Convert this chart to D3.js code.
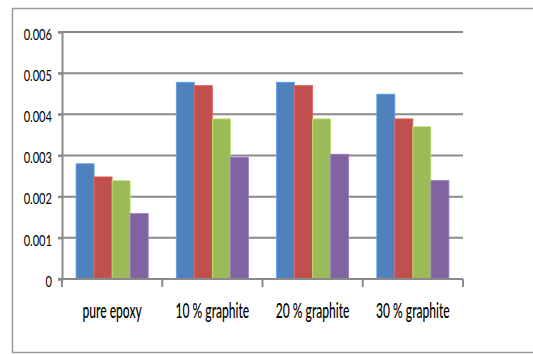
<!DOCTYPE html>
<html>
<head>
<meta charset="utf-8">
<script src="https://cdn.jsdelivr.net/npm/d3@7"></script>
<style>
  html, body { margin: 0; padding: 0; background: #fff; }
  svg { display: block; }
  text { font-family: Lato, "Liberation Sans", sans-serif; fill: #000; }
</style>
</head>
<body>
<svg id="chart" width="533" height="354"></svg>
<script>
// Categories and the four series per category
const categories = ["pure epoxy", "10 % graphite", "20 % graphite", "30 % graphite"];
const series1 = [0.0028, 0.00478, 0.00478, 0.00449];
const series2 = [0.00248, 0.0047, 0.0047, 0.00389];
const series3 = [0.00239, 0.00389, 0.00389, 0.0037];
const series4 = [0.00159, 0.00296, 0.00303, 0.00239];
const seriesColors = ["#4F81BD", "#C0504D", "#9BBB59", "#8064A2"];
const yTicks = [0, 0.001, 0.002, 0.003, 0.004, 0.005, 0.006];

const allSeries = [series1, series2, series3, series4];

const svg = d3.select("#chart");

// Chart frame
svg.append("path")
  .attr("d", "M533,8.5 H12.5 V352.5 H533")
  .attr("fill", "none")
  .attr("stroke", "#9a9a9a")
  .attr("stroke-width", 1.5);

const plotLeft = 62, plotRight = 463, plotTop = 32, plotBottom = 279;

const x = d3.scaleBand().domain(categories).range([plotLeft, plotRight]).padding(0);
const y = d3.scaleLinear().domain([0, 0.006]).range([plotBottom, plotTop]);
const inner = d3.scaleBand().domain(d3.range(allSeries.length))
  .range([0, x.bandwidth()]).paddingOuter(0.78).paddingInner(0);

// Horizontal gridlines
svg.append("g").selectAll("line")
  .data(yTicks.filter(d => d > 0))
  .join("line")
  .attr("x1", plotLeft - 4).attr("x2", plotRight)
  .attr("y1", d => y(d)).attr("y2", d => y(d))
  .attr("stroke", "#8a8a8a").attr("stroke-width", 2);

// Y axis with narrow, tall tick labels
const yAxis = d3.axisLeft(y).tickValues(yTicks)
  .tickFormat(d => d === 0 ? "0" : d3.format(".3f")(d))
  .tickSize(4);
const gy = svg.append("g").attr("transform", `translate(${plotLeft},0)`).call(yAxis);
gy.select(".domain").attr("stroke", "#8a8a8a").attr("stroke-width", 2);
gy.selectAll(".tick line").attr("stroke", "#8a8a8a").attr("stroke-width", 2);
gy.selectAll(".tick text")
  .attr("x", 0)
  .attr("dy", "0.48em")
  .attr("transform", "translate(-10,0) scale(0.74,1)")
  .attr("font-size", 15)
  .attr("fill", "#000")
  .style("font-family", "Lato, 'Liberation Sans', sans-serif");

// Bars
const groups = svg.append("g").selectAll("g")
  .data(categories)
  .join("g")
  .attr("transform", d => `translate(${x(d)},0)`);

groups.selectAll("rect")
  .data((c, i) => allSeries.map((s, k) => ({ k, v: s[i] })))
  .join("rect")
  .attr("x", d => inner(d.k))
  .attr("width", inner.bandwidth())
  .attr("y", d => y(d.v))
  .attr("height", d => plotBottom - y(d.v))
  .attr("fill", d => seriesColors[d.k])
  .attr("stroke", d => d3.color(seriesColors[d.k]).brighter(0.6))
  .attr("stroke-width", 0.8);

// X axis with category separators
const boundaries = [plotLeft, ...categories.slice(1).map(c => x(c)), plotRight];
svg.append("line")
  .attr("x1", plotLeft - 4).attr("x2", plotRight)
  .attr("y1", plotBottom).attr("y2", plotBottom)
  .attr("stroke", "#8a8a8a").attr("stroke-width", 2);
svg.append("g").selectAll("line")
  .data(boundaries)
  .join("line")
  .attr("x1", d => d).attr("x2", d => d)
  .attr("y1", plotBottom).attr("y2", plotBottom + 8)
  .attr("stroke", "#8a8a8a").attr("stroke-width", 2);

// Category labels
svg.append("g").selectAll("text")
  .data(categories)
  .join("text")
  .attr("transform", d => `translate(${x(d) + x.bandwidth() / 2},317.5) scale(0.575,1)`)
  .attr("text-anchor", "middle")
  .attr("font-size", 21)
  .attr("font-weight", 500)
  .text(d => d);
</script>
</body>
</html>
